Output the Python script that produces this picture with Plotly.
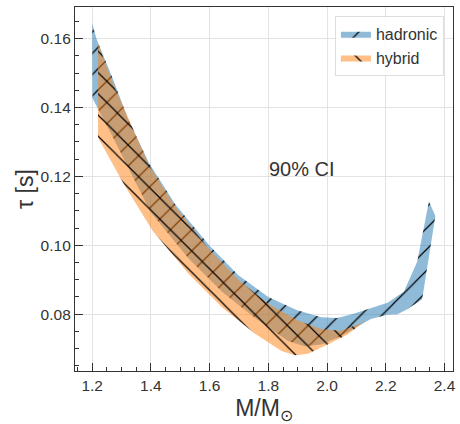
import plotly.graph_objects as go

# ---- data ----
hadronic_upper_m = [1.200, 1.215, 1.271, 1.321, 1.394, 1.484, 1.600, 1.698, 1.800, 1.896, 1.980, 2.035, 2.090, 2.140, 2.171, 2.206, 2.262, 2.307, 2.347, 2.369]
hadronic_upper_tau = [0.1645, 0.1599, 0.1482, 0.1370, 0.1238, 0.1118, 0.0999, 0.0913, 0.0850, 0.0812, 0.0791, 0.0789, 0.0801, 0.0815, 0.0822, 0.0833, 0.0866, 0.0952, 0.1128, 0.1085]
hadronic_lower_m = [2.369, 2.324, 2.273, 2.240, 2.206, 2.149, 2.115, 2.047, 1.980, 1.923, 1.867, 1.755, 1.642, 1.529, 1.400, 1.339, 1.271, 1.201]
hadronic_lower_tau = [0.1085, 0.0843, 0.0814, 0.0800, 0.0798, 0.0786, 0.0769, 0.0736, 0.0712, 0.0707, 0.0722, 0.0789, 0.0865, 0.0961, 0.1095, 0.1199, 0.1313, 0.1427]

hybrid_upper_m = [1.220, 1.271, 1.327, 1.394, 1.484, 1.597, 1.698, 1.800, 1.901, 1.980, 2.047, 2.115, 2.127]
hybrid_upper_tau = [0.1585, 0.1470, 0.1362, 0.1232, 0.1111, 0.0990, 0.0900, 0.0830, 0.0782, 0.0757, 0.0752, 0.0774, 0.0783]
hybrid_lower_m = [2.127, 2.115, 2.070, 2.002, 1.935, 1.890, 1.845, 1.755, 1.642, 1.529, 1.406, 1.304, 1.237, 1.220]
hybrid_lower_tau = [0.0781, 0.0771, 0.0741, 0.0712, 0.0685, 0.0681, 0.0693, 0.0743, 0.0820, 0.0917, 0.1042, 0.1183, 0.1285, 0.1313]

x_ticks = [1.2, 1.4, 1.6, 1.8, 2.0, 2.2, 2.4]
y_ticks = [0.08, 0.10, 0.12, 0.14, 0.16]

FONT = "Liberation Sans, Arial, sans-serif"
BLUE = "rgba(31,119,180,0.5)"
ORANGE = "rgba(255,127,14,0.5)"

fig = go.Figure()
fig.add_trace(go.Scatter(
    x=hadronic_upper_m + hadronic_lower_m,
    y=hadronic_upper_tau + hadronic_lower_tau,
    fill="toself", mode="lines",
    line=dict(width=0, color=BLUE),
    fillcolor=BLUE,
    fillpattern=dict(shape="/", size=15, solidity=0.08, fgcolor="black", bgcolor=BLUE, fgopacity=1),
    name="hadronic", hoverinfo="skip",
))
fig.add_trace(go.Scatter(
    x=hybrid_upper_m + hybrid_lower_m,
    y=hybrid_upper_tau + hybrid_lower_tau,
    fill="toself", mode="lines",
    line=dict(width=0, color=ORANGE),
    fillcolor=ORANGE,
    fillpattern=dict(shape="\\", size=15, solidity=0.08, fgcolor="black", bgcolor=ORANGE, fgopacity=1),
    name="hybrid", hoverinfo="skip",
))

fig.add_annotation(x=1.914, y=0.1221, text="90% CI", showarrow=False,
                   font=dict(family=FONT, size=20, color="#333333"))

axis_common = dict(
    showline=True, linecolor="#333333", linewidth=1.25, mirror=True,
    ticks="inside", ticklen=8, tickwidth=1.25, tickcolor="#333333",
    showgrid=True, gridcolor="#e3e3e3", gridwidth=1, zeroline=False,
    tickfont=dict(family=FONT, size=15.5, color="#333333"),
)

fig.update_xaxes(
    range=[1.1415, 2.429], tickvals=x_ticks, ticktext=[f"{v:.1f}" for v in x_ticks],
    minor=dict(ticks="inside", ticklen=4, tickwidth=1, tickcolor="#333333", dtick=0.05, tick0=1.2, showgrid=False),
    title=dict(text="M/M<sub>⊙</sub>", font=dict(family=FONT, size=23, color="#333333"), standoff=10),
    **axis_common,
)
fig.update_yaxes(
    range=[0.0635, 0.1692], tickvals=y_ticks, ticktext=[f"{v:.2f}" for v in y_ticks],
    minor=dict(ticks="inside", ticklen=4, tickwidth=1, tickcolor="#333333", dtick=0.005, tick0=0.08, showgrid=False),
    title=dict(text="τ [s]", font=dict(family=FONT, size=23, color="#333333"), standoff=0),
    **axis_common,
)

fig.update_layout(
    width=460, height=424,
    margin=dict(l=75, r=4, t=7, b=46),
    paper_bgcolor="white", plot_bgcolor="white",
    showlegend=True,
    legend=dict(x=0.976, y=0.976, xanchor="right", yanchor="top",
                bgcolor="rgba(255,255,255,0.8)", bordercolor="#dddddd", borderwidth=1,
                font=dict(family=FONT, size=16, color="#333333"),
                itemwidth=30, tracegroupgap=2),
)

fig.write_html("out.html")
